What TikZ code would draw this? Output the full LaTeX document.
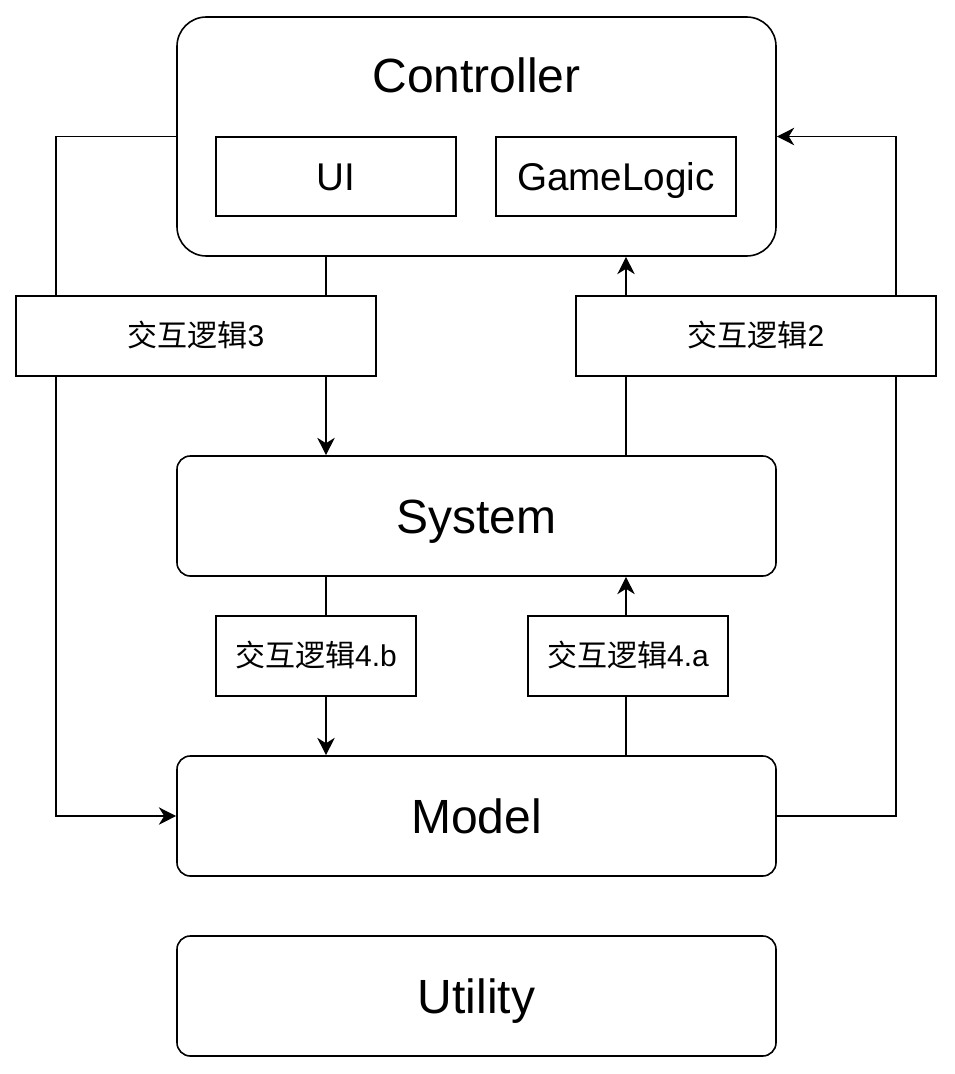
\documentclass[tikz,border=0pt]{standalone}
\usepackage{fontspec}
\setmainfont{Liberation Sans}
\newfontfamily\cjk{Noto Sans CJK SC}
\usetikzlibrary{arrows.meta}

\begin{document}
\begin{tikzpicture}[x=0.75pt, y=-0.75pt, line width=1.2pt,
    bigbox/.style={draw, rounded corners=10pt, minimum width=449.25pt, minimum height=90pt, inner sep=0pt, text height=25.8pt, text depth=0pt, font=\fontsize{36}{40}\selectfont},
    subbox/.style={draw, minimum width=180pt, minimum height=59.25pt, inner sep=0pt, text height=20.8pt, text depth=0pt, font=\fontsize{29}{32}\selectfont},
    linkbox/.style={draw, minimum height=60pt, inner sep=0pt, text height=16.2pt, text depth=0pt, font=\fontsize{22.5}{26}\selectfont},
    flow/.style={-{Stealth[length=13pt, width=13pt, inset=4pt]}}]
  \useasboundingbox (0,0) rectangle (954,1074);

  \node [bigbox, minimum height=179.25pt, rounded corners=22pt] (ctrl) at (476.5,136.5) {};
  \node [text height=25.8pt, text depth=0pt, inner sep=0pt, font=\fontsize{36}{40}\selectfont] (ctrltitle) at (476.5,75) {Controller};
  \node [subbox] (ui) at (336,176.5) {UI};
  \node [subbox] (logic) at (616,176.5) {GameLogic};

  \node [linkbox, minimum width=270pt] (link3) at (196,336) {{\cjk 交互逻辑}3};
  \node [linkbox, minimum width=270pt] (link2) at (756,336) {{\cjk 交互逻辑}2};

  \node [bigbox] (sys) at (476.5,516) {System};

  \node [linkbox, minimum width=150pt] (link4b) at (316,656) {{\cjk 交互逻辑}4.b};
  \node [linkbox, minimum width=150pt] (link4a) at (628,656) {{\cjk 交互逻辑}4.a};

  \node [bigbox] (model) at (476.5,816) {Model};
  \node [bigbox] (util) at (476.5,996) {Utility};

  \coordinate (xa) at (326,0);
  \coordinate (xb) at (626,0);
  \coordinate (xl) at (56,0);
  \coordinate (xr) at (896,0);

  % downward paths
  \draw (ctrl.south -| xa) -- (link3.north -| xa);
  \draw [flow] (link3.south -| xa) -- (sys.north -| xa);
  \draw (sys.south -| xa) -- (link4b.north -| xa);
  \draw [flow] (link4b.south -| xa) -- (model.north -| xa);

  % upward paths
  \draw (model.north -| xb) -- (link4a.south -| xb);
  \draw [flow] (link4a.north -| xb) -- (sys.south -| xb);
  \draw (sys.north -| xb) -- (link2.south -| xb);
  \draw [flow] (link2.north -| xb) -- (ctrl.south -| xb);

  % outer loops
  \draw (ctrl.west) -| (link3.north -| xl);
  \draw [flow] (link3.south -| xl) |- (model.west);
  \draw (model.east) -| (link2.south -| xr);
  \draw [flow] (link2.north -| xr) |- (ctrl.east);
\end{tikzpicture}
\end{document}
